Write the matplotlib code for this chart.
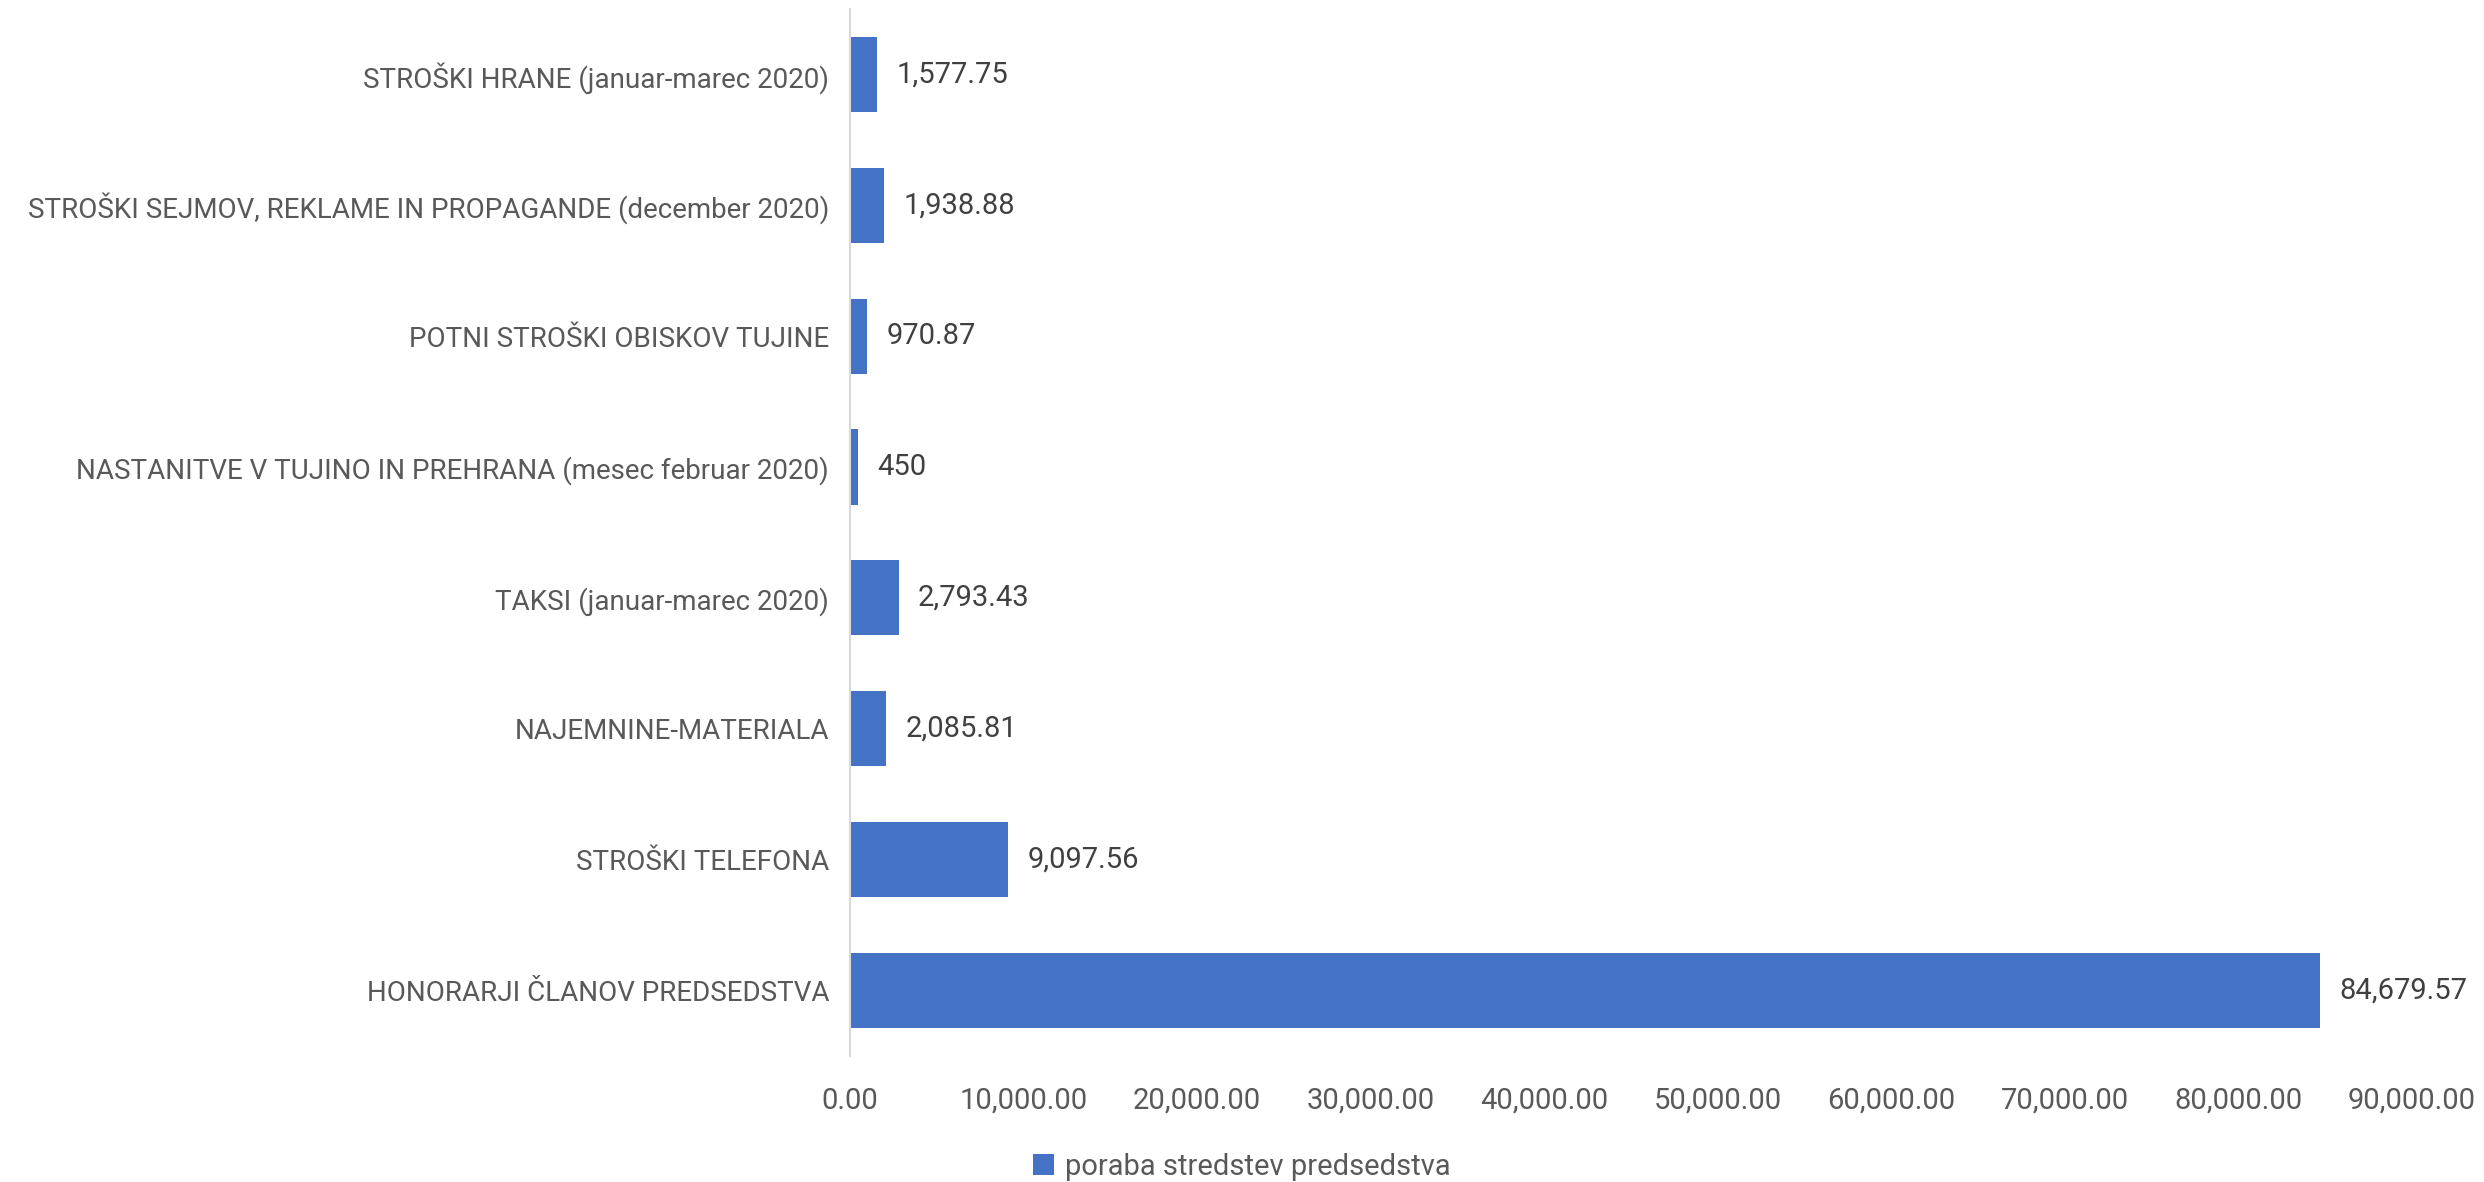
import matplotlib.pyplot as plt
from matplotlib.ticker import FuncFormatter

# categories listed from bottom to top
categories = [
    'HONORARJI ČLANOV PREDSEDSTVA',
    'STROŠKI TELEFONA',
    'NAJEMNINE-MATERIALA',
    'TAKSI (januar-marec 2020)',
    'NASTANITVE V TUJINO IN PREHRANA (mesec februar 2020)',
    'POTNI STROŠKI OBISKOV TUJINE',
    'STROŠKI SEJMOV, REKLAME IN PROPAGANDE (december 2020)',
    'STROŠKI HRANE (januar-marec 2020)',
]
values = [84679.57, 9097.56, 2085.81, 2793.43, 450, 970.87, 1938.88, 1577.75]
series_name = 'poraba stredstev predsedstva'
xticks = [0, 10000, 20000, 30000, 40000, 50000, 60000, 70000, 80000, 90000]

plt.rcParams['font.family'] = ['Roboto', 'DejaVu Sans']
txt_col = '#595959'
val_col = '#404040'
bar_col = '#4472C4'
fs = 21

fig = plt.figure(figsize=(24.84, 11.82), dpi=100)
ax = fig.add_axes([0.3422, 0.1066, 0.6288, 0.8858])

ypos = list(range(len(categories)))
bars = ax.barh(ypos, values, height=0.574, color=bar_col, label=series_name)

def fmt_val(v):
    if float(v).is_integer():
        return f'{int(v):,}'
    return f'{v:,.2f}'

for y, v in zip(ypos, values):
    ax.annotate(fmt_val(v), (v, y), xytext=(14, 0), textcoords='offset points',
                va='center', ha='left', fontsize=fs, color=val_col)

ax.set_yticks(ypos)
ax.set_yticklabels(categories, fontsize=20, color=txt_col)
ax.set_ylim(-0.5, len(categories) - 0.5)
ax.set_xlim(0, 90000)
ax.set_xticks(xticks)
ax.xaxis.set_major_formatter(FuncFormatter(lambda x, p: f'{x:,.2f}'))
ax.tick_params(axis='x', labelsize=fs, labelcolor=txt_col, length=0, pad=22)
ax.tick_params(axis='y', length=0, pad=15)

for s in ['top', 'right', 'bottom']:
    ax.spines[s].set_visible(False)
ax.spines['left'].set_color('#D9D9D9')
ax.spines['left'].set_linewidth(1.5)

fig.legend(handles=[bars], labels=[series_name], loc='center',
           bbox_to_anchor=(0.5, 0.0127), frameon=False, fontsize=fs,
           labelcolor=txt_col, handlelength=0.72, handleheight=0.72,
           handletextpad=0.38, borderpad=0, borderaxespad=0)

fig.savefig('out.png', dpi=100)
